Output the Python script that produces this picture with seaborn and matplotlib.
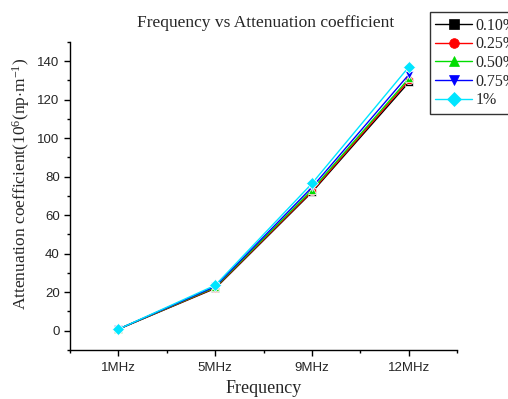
import matplotlib
matplotlib.use("Agg")
import matplotlib.pyplot as plt
import seaborn as sns
import pandas as pd
from matplotlib.ticker import MultipleLocator, FixedLocator
from matplotlib.lines import Line2D

categories = ["1MHz", "5MHz", "9MHz", "12MHz"]
series_names = ["0.10%", "0.25%", "0.50%", "0.75%", "1%"]
s010 = [0.8, 22.0, 72.0, 129.0]
s025 = [0.8, 22.3, 72.5, 130.0]
s050 = [0.8, 22.6, 73.2, 131.0]
s075 = [0.8, 23.0, 74.5, 133.0]
s1 = [0.8, 23.6, 76.5, 137.0]
values = [s010, s025, s050, s075, s1]
colors = ["#000000", "#ff0000", "#00dd00", "#0000ff", "#00e5ff"]
markers = ["s", "o", "^", "v", "D"]

rows = []
for name, vals in zip(series_names, values):
    for i, (c, v) in enumerate(zip(categories, vals)):
        rows.append({"pos": i, "freq": c, "series": name, "value": v})
df = pd.DataFrame(rows)

sns.set_style("ticks")
plt.rcParams["mathtext.fontset"] = "custom"
plt.rcParams["mathtext.rm"] = "Liberation Serif"
plt.rcParams["mathtext.it"] = "Liberation Serif:italic"
fig = plt.figure(figsize=(5.08, 3.99), dpi=100)
ax = fig.add_axes([0.138, 0.123, 0.762, 0.772])

sns.lineplot(data=df, x="pos", y="value", hue="series", style="series",
             palette=colors, markers=markers, dashes=False, ax=ax,
             markersize=6, markeredgewidth=0.5, linewidth=1.0, legend=False)

ax.set_xlim(-0.5, 3.5)
ax.set_ylim(-10, 150)
ax.xaxis.set_major_locator(FixedLocator(range(len(categories))))
ax.set_xticklabels(categories, family="Liberation Sans", fontsize=9.5)
ax.xaxis.set_minor_locator(FixedLocator([-0.5, 0.5, 1.5, 2.5, 3.5]))
ax.yaxis.set_major_locator(FixedLocator([0, 20, 40, 60, 80, 100, 120, 140]))
ax.yaxis.set_minor_locator(MultipleLocator(10))
for lab in ax.get_yticklabels():
    lab.set_family("Liberation Sans")
    lab.set_fontsize(9.5)
ax.tick_params(which="major", direction="out", length=4, width=1, color="black")
ax.tick_params(which="minor", direction="out", length=2.5, width=1, color="black")
ax.tick_params(axis="x", which="major", pad=5)
sns.despine(ax=ax)
for sp in ["left", "bottom"]:
    ax.spines[sp].set_linewidth(1.0)
    ax.spines[sp].set_color("black")

ax.set_xlabel("Frequency", family="Liberation Serif", fontsize=13, labelpad=4)
ax.set_ylabel(r"Attenuation coefficient(10$^{\mathregular{6}}$(np$\cdot$m$^{\mathregular{-1}}$)",
              family="Liberation Serif", fontsize=12.5)
ax.yaxis.set_label_coords(-0.098, 0.54)
fig.text(0.522, 0.942, "Frequency vs Attenuation coefficient", ha="center", va="center",
         family="Liberation Serif", fontsize=12.5)

handles = [Line2D([0], [0], color=c, marker=m, markersize=7, linewidth=1.0,
                  markeredgewidth=0.5)
           for c, m in zip(colors, markers)]
leg = fig.legend(handles, series_names, loc="upper left",
                 bbox_to_anchor=(0.846, 0.97), frameon=True, fancybox=False,
                 edgecolor="black", prop={"family": "Liberation Serif", "size": 11.5},
                 handlelength=2.3, handletextpad=0.2, labelspacing=0.17,
                 borderpad=0.35, borderaxespad=0.0)
leg.get_frame().set_linewidth(1.0)

fig.savefig("out.png", dpi=100)
